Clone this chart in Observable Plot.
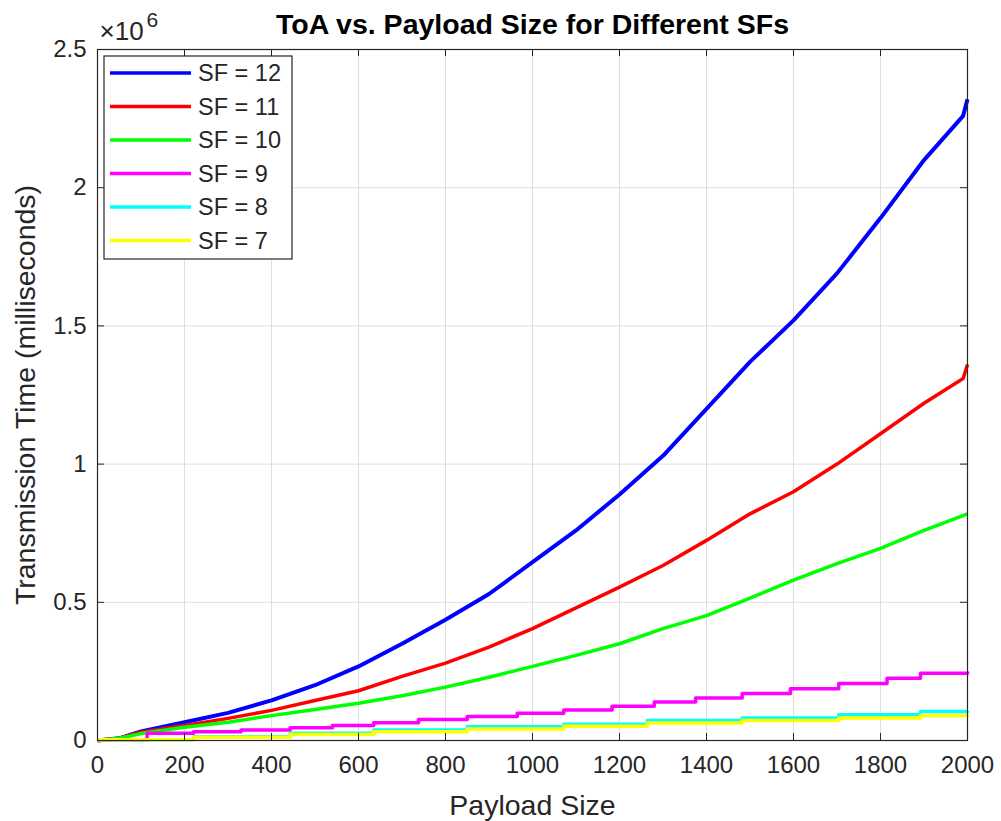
<!DOCTYPE html>
<html>
<head>
<meta charset="utf-8">
<script src="https://cdn.jsdelivr.net/npm/d3@7"></script>
<script src="https://cdn.jsdelivr.net/npm/@observablehq/plot@0.6"></script>
<style>
  html, body { margin: 0; padding: 0; background: #fff; }
  #chart { position: relative; width: 1001px; height: 821px; }
  svg { font-family: "Liberation Sans", Arial, sans-serif; }
</style>
</head>
<body>
<div id="chart"></div>
<script>
// ---- Data (values in milliseconds) ----
const seriesNames = ["SF = 12", "SF = 11", "SF = 10", "SF = 9", "SF = 8", "SF = 7"];
const seriesColors = ["#0000ff", "#ff0000", "#00ff00", "#ff00ff", "#00ffff", "#ffff00"];

const sf12X = [0, 50, 100, 200, 300, 400, 500, 600, 700, 800, 900, 1000, 1100, 1200, 1300, 1400, 1500, 1600, 1700, 1800, 1900, 1990, 2000];
const sf12Y = [0, 8000, 33000, 66000, 100000, 145000, 200000, 268000, 350000, 437000, 530000, 645000, 760000, 890000, 1030000, 1200000, 1370000, 1520000, 1690000, 1890000, 2100000, 2260000, 2320000];

const sf11X = [0, 50, 100, 200, 300, 400, 500, 600, 700, 800, 900, 1000, 1100, 1200, 1300, 1400, 1500, 1600, 1700, 1800, 1900, 1990, 2000];
const sf11Y = [0, 8000, 30000, 54000, 80000, 109000, 145000, 180000, 232000, 280000, 338000, 405000, 480000, 555000, 633000, 724000, 820000, 900000, 1000000, 1110000, 1220000, 1310000, 1360000];

const sf10X = [0, 50, 100, 200, 300, 400, 500, 600, 700, 800, 900, 1000, 1100, 1200, 1300, 1400, 1500, 1600, 1700, 1800, 1900, 2000];
const sf10Y = [0, 8000, 25000, 48000, 66000, 90000, 112000, 135000, 162000, 193000, 229000, 268000, 308000, 350000, 405000, 452000, 515000, 580000, 640000, 695000, 760000, 820000];

const sf9X = [0, 114, 221, 330, 443, 540, 635, 738, 850, 965, 1072, 1183, 1280, 1375, 1482, 1593, 1704, 1815, 1892, 2000];
const sf9Y = [2000, 26000, 32000, 38000, 46000, 54000, 64000, 76000, 87000, 99000, 110000, 124000, 139000, 154000, 170000, 187000, 206000, 225000, 243000, 250000];

const sf8X = [0, 221, 443, 635, 850, 1072, 1264, 1482, 1704, 1892, 2000];
const sf8Y = [3000, 14000, 26000, 38000, 50000, 59000, 72000, 81000, 93000, 105000, 107000];

const sf7X = [0, 221, 443, 635, 850, 1072, 1264, 1482, 1704, 1892, 2000];
const sf7Y = [3000, 12000, 22000, 32000, 42000, 52000, 63000, 72000, 81000, 90000, 92000];

const xTicks = [0, 200, 400, 600, 800, 1000, 1200, 1400, 1600, 1800, 2000];
const xTickLabels = ["0", "200", "400", "600", "800", "1000", "1200", "1400", "1600", "1800", "2000"];
const yTicks = [0, 500000, 1000000, 1500000, 2000000, 2500000];
const yTickLabels = ["0", "0.5", "1", "1.5", "2", "2.5"];

const titleText = "ToA vs. Payload Size for Different SFs";
const xLabelText = "Payload Size";
const yLabelText = "Transmission Time (milliseconds)";
const exponentText = "\u00d710";
const exponentPower = "6";

// ---- Build table ----
const seriesXs = [sf12X, sf11X, sf10X, sf9X, sf8X, sf7X];
const seriesYs = [sf12Y, sf11Y, sf10Y, sf9Y, sf8Y, sf7Y];
const stepped = [false, false, false, true, true, true];
const rows = seriesNames.map((name, i) =>
  seriesXs[i].map((x, j) => ({sf: name, payload: x, toa: seriesYs[i][j]})));

const W = 1001, H = 821;
const mL = 97, mR = 34, mT = 49, mB = 81;
const pw = W - mL - mR, ph = H - mT - mB;
const tickLen = 7;
const ink = "#262626";
const FONT = "Liberation Sans, Arial, sans-serif";

const lineMarks = rows.map((data, i) =>
  Plot.line(data, {
    x: "payload", y: "toa",
    stroke: seriesColors[i],
    strokeWidth: i === 0 ? 4 : 3.5,
    curve: stepped[i] ? "step-after" : "linear",
    strokeLinejoin: "round", strokeLinecap: "butt"
  }));

const plot = Plot.plot({
  width: W, height: H,
  marginLeft: mL, marginRight: mR, marginTop: mT, marginBottom: mB,
  style: {fontFamily: FONT, background: "#fff", overflow: "visible"},
  x: {domain: [0, 2000]},
  y: {domain: [0, 2500000]},
  marks: [
    Plot.gridX(xTicks, {stroke: "#dedede", strokeOpacity: 1, strokeWidth: 1}),
    Plot.gridY(yTicks, {stroke: "#dedede", strokeOpacity: 1, strokeWidth: 1}),
    ...lineMarks,
    // inward ticks on all four sides
    Plot.tickX(xTicks, {x: d => d, insetTop: ph - tickLen, stroke: ink}),
    Plot.tickX(xTicks, {x: d => d, insetBottom: ph - tickLen, stroke: ink}),
    Plot.tickY(yTicks, {y: d => d, insetRight: pw - tickLen, stroke: ink}),
    Plot.tickY(yTicks, {y: d => d, insetLeft: pw - tickLen, stroke: ink}),
    Plot.frame({stroke: ink, strokeWidth: 1.2}),
    Plot.axisX(xTicks, {tickSize: 0, tickPadding: 15, fontSize: 24, fill: ink, label: null,
      tickFormat: d => xTickLabels[xTicks.indexOf(d)]}),
    Plot.axisY(yTicks, {tickSize: 0, tickPadding: 11, fontSize: 24, fill: ink, label: null,
      tickFormat: d => yTickLabels[yTicks.indexOf(d)]}),
    Plot.text([titleText], {frameAnchor: "top", dy: -36, text: d => d, fontSize: 28.5, fontWeight: "bold", fill: "#000", textAnchor: "middle"}),
    Plot.text([xLabelText], {frameAnchor: "bottom", dy: 74, text: d => d, fontSize: 28.5, fill: ink, textAnchor: "middle"}),
    Plot.text([yLabelText], {frameAnchor: "left", dx: -72, rotate: -90, text: d => d, fontSize: 28.5, fill: ink, textAnchor: "middle"}),
    Plot.text([exponentText], {frameAnchor: "top-left", dx: 2, dy: -28, text: d => d, fontSize: 26, fill: ink, textAnchor: "start"}),
    Plot.text([exponentPower], {frameAnchor: "top-left", dx: 49, dy: -37, text: d => d, fontSize: 21, fill: ink, textAnchor: "start"})
  ]
});

document.getElementById("chart").appendChild(plot);

// ---- Legend (drawn inside the svg, top-left of the axes) ----
const svg = d3.select(plot);
const lg = svg.append("g").attr("transform", `translate(${mL + 7},${mT + 7})`);
const lgW = 188, lgH = 203, rowH = 33.5, firstRow = 17;
lg.append("rect").attr("width", lgW).attr("height", lgH)
  .attr("fill", "#fff").attr("stroke", ink).attr("stroke-width", 1.2);
seriesNames.forEach((name, i) => {
  const yy = firstRow + i * rowH;
  lg.append("line").attr("x1", 6).attr("x2", 87).attr("y1", yy).attr("y2", yy)
    .attr("stroke", seriesColors[i]).attr("stroke-width", 3.5);
  lg.append("text").attr("x", 94).attr("y", yy).attr("dy", "0.36em")
    .attr("text-anchor", "start")
    .attr("font-size", 23.5).attr("fill", ink)
    .attr("font-family", FONT).text(name);
});
</script>
</body>
</html>
